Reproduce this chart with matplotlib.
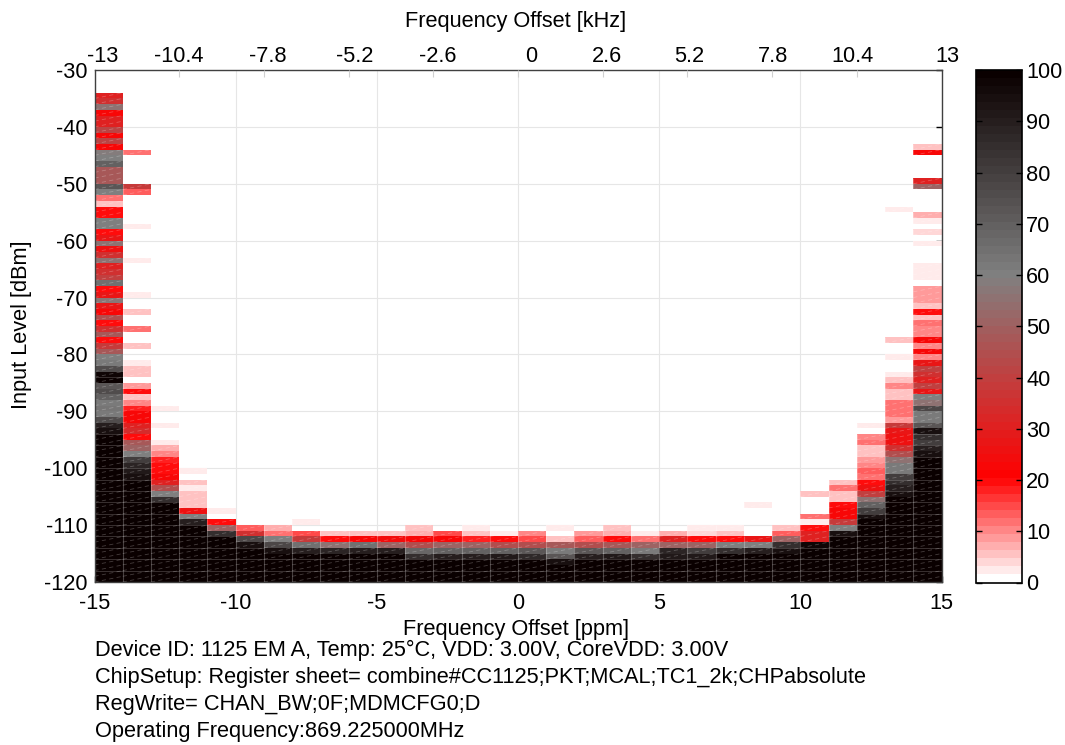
import numpy as np
import matplotlib
matplotlib.use("Agg")
import matplotlib.pyplot as plt
from matplotlib.colors import LinearSegmentedColormap
from matplotlib.collections import LineCollection
from matplotlib.cm import ScalarMappable
from matplotlib.colors import Normalize

plt.rcParams['font.family'] = ['Liberation Sans', 'DejaVu Sans']
plt.rcParams['axes.unicode_minus'] = False

# Each column: top-edge level [dBm] of its first row, values listed downward; rows below are 100 %
col_tops = [-34, -44, -89, -100, -107, -110, -110, -109, -111, -111,
            -111, -110, -111, -110, -111, -111, -110, -111, -110, -111,
            -111, -110, -110, -106, -110, -104, -102, -92, -54, -43]
col_00 = [30,35,55,22,30,30,42,22,42,22,58,60,70,48,48,48,73,60,12,5,20,20,60,60,20,28,55,25,35,55,30,35,40,65,20,28,57,28,22,45,20,35,48,20,38,48,60,62,75,98,100,72,75,70,62,63,62,75,90,95]
col_01 = [12,0,0,0,0,0,38,13,0,0,0,0,0,2,0,0,0,0,0,2,0,0,0,0,0,2,0,0,6,0,0,12,0,0,6,0,0,2,5,5,0,8,20,5,10,18,22,22,30,33,20,48,50,60,80,88,92,95]
col_02 = [2,0,0,2,0,0,2,7,10,18,20,20,22,30,45,60,85]
col_03 = [2,0,6,3,5,6,6,25,60,90]
col_04 = [2,0,20,50,85]
col_05 = [14,35,78,95]
col_06 = [7,12,60,78,95]
col_07 = [2,0,15,38,65,90]
col_08 = [5,20,55,88]
col_09 = [5,22,65,90]
col_10 = [5,24,50,90]
col_11 = [6,7,22,45,68,85]
col_12 = [15,22,50,70,90]
col_13 = [3,6,18,50,70,90]
col_14 = [3,20,45,70,92]
col_15 = [10,15,45,72,86]
col_16 = [3,0,5,48,62,72,95]
col_17 = [8,13,45,72,90]
col_18 = [5,7,20,47,70,92]
col_19 = [3,12,50,62,85]
col_20 = [7,30,50,88,92]
col_21 = [3,4,20,50,80,92]
col_22 = [2,6,20,60,85]
col_23 = [3,0,0,0,0,0,28,60,90]
col_24 = [6,13,50,85,95]
col_25 = [6,0,0,0,12,3,20,30,30,98]
col_26 = [6,11,6,6,20,22,22,38,60,95]
col_27 = [2,0,10,11,5,5,9,10,13,12,20,25,40,55,70,80,95]
col_28 = [2]+[0]*22+[5,0,0,2,0,0,2,6,10,5,5,12,11,12,8,38,28,25,25,35,45,55,62,62,80,85,90,95]
col_29 = [6,22,0,0,0,0,30,50,0,0,0,0,7,3,0,4,0,3,0,0,0,2,2,2,0,8,9,8,5,20,5,12,10,10,22,10,22,10,28,40,35,30,40,28,60,55,78,62,62,72,95,85,80,90,95]
columns = [col_00,col_01,col_02,col_03,col_04,col_05,col_06,col_07,col_08,col_09,
           col_10,col_11,col_12,col_13,col_14,col_15,col_16,col_17,col_18,col_19,
           col_20,col_21,col_22,col_23,col_24,col_25,col_26,col_27,col_28,col_29]

x_edges = np.arange(-15, 16)
y_edges = np.arange(-120, -29)
x_ticks = [-15, -10, -5, 0, 5, 10, 15]
y_ticks = list(range(-120, -20, 10))
khz_labels = ['-13', '-10.4', '-7.8', '-5.2', '-2.6', '0', '2.6', '5.2', '7.8', '10.4', '13']
khz_label_ppm = [-14.7, -12.0, -8.85, -5.8, -2.85, 0.45, 3.15, 6.05, 9.03, 11.85, 15.2]
khz_ticks = [-12, -9, -6, -3, 0, 3, 6, 9, 12]
cbar_ticks = list(range(0, 110, 10))
info_lines = ['Device ID: 1125 EM A, Temp: 25\u00b0C, VDD: 3.00V, CoreVDD: 3.00V',
              'ChipSetup: Register sheet= combine#CC1125;PKT;MCAL;TC1_2k;CHPabsolute',
              'RegWrite= CHAN_BW;0F;MDMCFG0;D',
              'Operating Frequency:869.225000MHz']

Z = np.full((90, 30), 100.0)
for c, (top, vals) in enumerate(zip(col_tops, columns)):
    Z[top + 120:, c] = 0
    for i, v in enumerate(vals):
        Z[top + 119 - i, c] = v

cmap = LinearSegmentedColormap.from_list('per', [(0, '#ffffff'), (0.2, '#ff0000'), (0.6, '#808080'), (1, '#0a0000')], N=64)
norm = Normalize(0, 100)

W, H = 1065, 745
fig = plt.figure(figsize=(W/100, H/100), dpi=100)
def box(l, t, r, b):
    return [l/W, 1-b/H, (r-l)/W, (b-t)/H]
FS = 15.7
ax = fig.add_axes(box(94.5, 70, 941.5, 582))
ax.set_xlim(-15, 15); ax.set_ylim(-120, -30)
ax.set_axisbelow(True)
ax.grid(True, color='#e6e6e6', lw=0.8)
ax.set_xticks(x_ticks); ax.set_yticks(y_ticks[:-1] if y_ticks[-1] > -30 else y_ticks)
ax.tick_params(axis='both', labelsize=FS, direction='in', length=4, width=1, color='black', pad=4)
ax.tick_params(axis='y', right=True, left=False, pad=5)
ax.tick_params(axis='x', bottom=False, pad=8)
M = np.ma.masked_equal(Z, 0)
ax.pcolormesh(x_edges, y_edges, M, cmap=cmap, norm=norm, linewidth=0, rasterized=True)

# faint cell seams and diagonal seams as left by the original surface rendering
rows, cols = np.nonzero(Z)
diag = [[(x_edges[c], y_edges[r]), (x_edges[c+1], y_edges[r+1])] for r, c in zip(rows, cols)]
ax.add_collection(LineCollection(diag, colors='white', linewidths=0.6, alpha=0.24, linestyles=(0, (5, 4)), zorder=3))
vert = [[(x_edges[c], y_edges[r]), (x_edges[c], y_edges[r+1])] for r, c in zip(rows, cols) if c > 0]
ax.add_collection(LineCollection(vert, colors='white', linewidths=0.8, alpha=0.25, zorder=3))
hor = [[(x_edges[c], y_edges[r]), (x_edges[c+1], y_edges[r])] for r, c in zip(rows, cols)
       if r % 2 == 0 and r > 0 and Z[r, c] >= 80]
ax.add_collection(LineCollection(hor, colors='white', linewidths=0.6, alpha=0.22, zorder=3))

for s in ax.spines.values():
    s.set_color('#404040'); s.set_linewidth(1); s.set_zorder(5)

top = ax.twiny()
top.set_xlim(-15, 15)
top.set_xticks(khz_ticks); top.set_xticklabels([])
top.tick_params(axis='x', direction='in', length=5, width=0.8, color='#d0d0d0')
for s in top.spines.values():
    s.set_visible(False)
for p, lab in zip(khz_label_ppm, khz_labels):
    ax.annotate(lab, xy=(p, 1), xycoords=('data', 'axes fraction'), xytext=(0, 2), textcoords='offset points',
                ha='center', va='bottom', fontsize=FS)

fig.text(516/W, 1-21/H, 'Frequency Offset [kHz]', ha='center', va='center', fontsize=FS)
fig.text(516/W, 1-630/H, 'Frequency Offset [ppm]', ha='center', va='center', fontsize=FS)
fig.text(22/W, 1-325/H, 'Input Level [dBm]', ha='center', va='center', rotation=90, fontsize=FS)
for y, line in zip([650, 677, 704.5, 731], info_lines):
    fig.text(95/W, 1-y/H, line, ha='left', va='center', fontsize=FS)

cax = fig.add_axes(box(976, 70, 1022, 582.5))
cb = fig.colorbar(ScalarMappable(norm=norm, cmap=cmap), cax=cax)
cb.set_ticks(cbar_ticks)
cax.tick_params(axis='y', which='both', left=True, right=True, direction='in', length=4, width=1, labelsize=FS, pad=3, color='black')
cb.outline.set_edgecolor('black'); cb.outline.set_linewidth(1.2)

fig.savefig('out.png', dpi=100)
